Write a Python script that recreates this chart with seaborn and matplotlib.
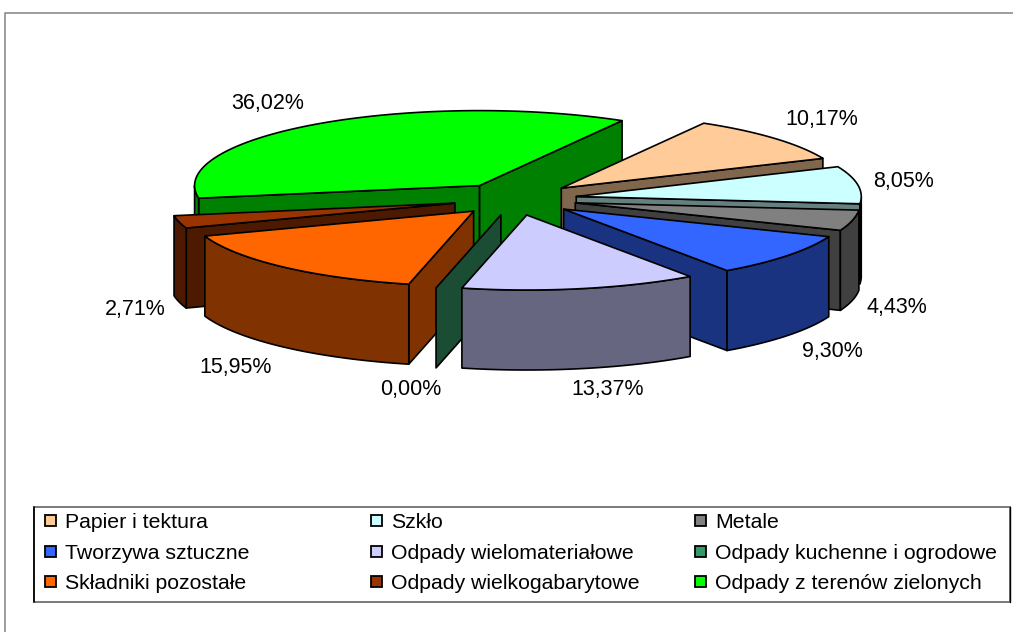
import numpy as np
import matplotlib
matplotlib.use("Agg")
import matplotlib.pyplot as plt
from matplotlib.patches import Polygon, Rectangle
import seaborn as sns

categories = ["Papier i tektura", "Szkło", "Metale", "Tworzywa sztuczne",
              "Odpady wielomateriałowe", "Odpady kuchenne i ogrodowe",
              "Składniki pozostałe", "Odpady wielkogabarytowe",
              "Odpady z terenów zielonych"]
shares = [10.17, 8.05, 4.43, 9.30, 13.37, 0.00, 15.95, 2.71, 36.02]
top_colors = ["#FFCC99", "#CCFFFF", "#808080", "#3366FF", "#CCCCFF",
              "#339966", "#FF6600", "#993300", "#00FF00"]
label_anchor = [(822, 119), (903, 181), (897, 308), (832, 351), (608, 390),
                (411, 390), (236, 367), (135, 309), (268, 104)]

# pie projection, in figure pixels
CX, CY = 515, 199
RX, RY = 285, 75
EXPLODE = 62
DEPTH = 80
START = 30
# painted back to front
DRAW_ORDER = [8, 0, 1, 2, 3, 7, 6, 5, 4]

LEGEND_COLS = [45, 371, 695]
LEGEND_ROWS = [521, 552, 582]

sns.set_theme(style="white")
plt.rcParams["font.family"] = ["Liberation Sans", "DejaVu Sans"]


def project(deg):
    a = np.radians(deg)
    return RX * np.sin(a), -RY * np.cos(a)


def darker(color):
    return tuple(c / 2 for c in matplotlib.colors.to_rgb(color))


def draw_slice(ax, a0, a1, color):
    mid = np.radians((a0 + a1) / 2)
    # explosion keeps the same tilt as the disc
    ox = CX + EXPLODE * np.sin(mid)
    oy = CY - EXPLODE * RY / RX * np.cos(mid)
    side = darker(color)
    style = dict(edgecolor="black", linewidth=1.2, joinstyle="round")

    # radial walls facing the viewer
    for edge, normal in ((a0, a0 - 90), (a1, a1 + 90)):
        if np.cos(np.radians(normal)) < 0:
            px, py = project(edge)
            pts = [(ox, oy), (ox + px, oy + py), (ox + px, oy + py + DEPTH), (ox, oy + DEPTH)]
            ax.add_patch(Polygon(pts, facecolor=side, **style))

    # outer wall, front half only
    for lo, hi in ((90, 270), (450, 630)):
        w0, w1 = max(a0, lo), min(a1, hi)
        if w1 > w0:
            t = np.linspace(w0, w1, 60)
            px, py = project(t)
            upper = np.column_stack([ox + px, oy + py])
            lower = np.column_stack([ox + px, oy + py + DEPTH])[::-1]
            ax.add_patch(Polygon(np.vstack([upper, lower]), facecolor=side, **style))

    if a1 > a0:
        t = np.linspace(a0, a1, 120)
        px, py = project(t)
        top = np.vstack([[ox, oy], np.column_stack([ox + px, oy + py])])
        ax.add_patch(Polygon(top, facecolor=color, **style))


fig = plt.figure(figsize=(10.13, 6.32), dpi=100)
ax = fig.add_axes([0, 0, 1, 1])
ax.set_xlim(0, 1013)
ax.set_ylim(632, 0)
ax.axis("off")

# chart frame runs off the crop on the right and bottom
ax.plot([5, 5, 1013], [632, 13, 13], color="#8c8c8c", linewidth=1.2)

edges = START + np.concatenate([[0], np.cumsum(shares)]) * 3.6
for i in DRAW_ORDER:
    draw_slice(ax, edges[i], edges[i + 1], top_colors[i])

for share, (x, y) in zip(shares, label_anchor):
    ax.text(x, y, f"{share:.2f}%".replace(".", ","), ha="center", va="center",
            fontsize=15.5, color="black")

# legend box, built by hand so the three columns sit at their own x
ax.add_patch(Rectangle((34, 507), 976, 95, facecolor="white", edgecolor="#6e6e6e", linewidth=1.3))
ax.plot([34, 34], [507, 602], color="black", linewidth=1.2)
ax.plot([1010, 1010], [507, 602], color="black", linewidth=1.0)
for i, name in enumerate(categories):
    x = LEGEND_COLS[i % 3]
    y = LEGEND_ROWS[i // 3]
    ax.add_patch(Rectangle((x, y - 6), 11, 11, facecolor=top_colors[i], edgecolor="black", linewidth=1.3))
    ax.text(x + 20, y + 1.5, name, ha="left", va="center", fontsize=15.3, color="black")

fig.savefig("out.png", dpi=100)
